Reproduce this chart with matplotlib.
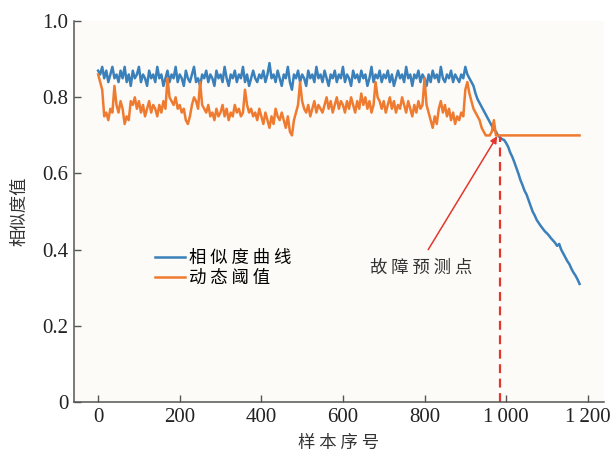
import numpy as np
import matplotlib
matplotlib.use("Agg")
import matplotlib.pyplot as plt

plt.rcParams['font.family'] = ['Liberation Serif', 'Noto Sans CJK SC', 'DejaVu Sans']

# similarity curve, one value every 5 samples (0 .. 1180)
sim_idx = np.arange(0, 1185, 5)
similarity = [
    0.87, 0.86, 0.88, 0.85, 0.87, 0.84, 0.86, 0.88, 0.85, 0.86,
    0.84, 0.87, 0.85, 0.88, 0.84, 0.86, 0.83, 0.87, 0.85, 0.86,
    0.88, 0.84, 0.86, 0.85, 0.83, 0.87, 0.85, 0.86, 0.84, 0.88,
    0.85, 0.86, 0.83, 0.85, 0.87, 0.84, 0.86, 0.85, 0.88, 0.84,
    0.86, 0.85, 0.83, 0.87, 0.85, 0.84, 0.86, 0.88, 0.84, 0.85,
    0.83, 0.86, 0.85, 0.87, 0.84, 0.86, 0.85, 0.83, 0.87, 0.85,
    0.86, 0.84, 0.88, 0.85, 0.83, 0.86, 0.85, 0.87, 0.84, 0.86,
    0.85, 0.88, 0.84, 0.86, 0.83, 0.85, 0.87, 0.85, 0.84, 0.86,
    0.85, 0.87, 0.84, 0.86, 0.89, 0.85, 0.86, 0.84, 0.87, 0.85,
    0.83, 0.86, 0.85, 0.88, 0.84, 0.82, 0.86, 0.85, 0.87, 0.84,
    0.86, 0.85, 0.83, 0.87, 0.85, 0.86, 0.84, 0.88, 0.85, 0.86,
    0.84, 0.87, 0.85, 0.83, 0.86, 0.85, 0.87, 0.84, 0.86, 0.85,
    0.88, 0.84, 0.86, 0.85, 0.83, 0.87, 0.85, 0.86, 0.84, 0.87,
    0.85, 0.86, 0.83, 0.85, 0.88, 0.84, 0.86, 0.85, 0.87, 0.84,
    0.86, 0.85, 0.87, 0.84, 0.86, 0.83, 0.85, 0.87, 0.85, 0.86,
    0.84, 0.88, 0.85, 0.86, 0.83, 0.86, 0.85, 0.87, 0.84, 0.86,
    0.85, 0.83, 0.86, 0.84, 0.87, 0.85, 0.86, 0.84, 0.88, 0.85,
    0.84, 0.86, 0.85, 0.87, 0.84, 0.86, 0.85, 0.84, 0.86, 0.85,
    0.88, 0.86, 0.85, 0.84, 0.83, 0.81, 0.795, 0.785, 0.775, 0.765,
    0.755, 0.745, 0.735, 0.725, 0.715, 0.71, 0.70, 0.695, 0.69, 0.688,
    0.68, 0.67, 0.655, 0.644, 0.63, 0.615, 0.60, 0.583, 0.57, 0.555,
    0.545, 0.53, 0.515, 0.50, 0.49, 0.478, 0.47, 0.462, 0.455, 0.448,
    0.443, 0.437, 0.43, 0.424, 0.418, 0.41, 0.415, 0.40, 0.39, 0.38,
    0.37, 0.362, 0.35, 0.34, 0.332, 0.322, 0.31,
]

# dynamic threshold, every 5 samples up to 975, then flat to the end
thr_idx = list(range(0, 980, 5)) + [1180]
threshold = [
    0.86, 0.84, 0.82, 0.75, 0.76, 0.74, 0.77, 0.76, 0.83, 0.78,
    0.76, 0.79, 0.77, 0.73, 0.75, 0.74, 0.79, 0.78, 0.80, 0.77,
    0.79, 0.76, 0.78, 0.75, 0.77, 0.79, 0.76, 0.78, 0.77, 0.75,
    0.78, 0.76, 0.79, 0.77, 0.85, 0.80, 0.79, 0.78, 0.80, 0.77,
    0.78, 0.76, 0.77, 0.74, 0.73, 0.75, 0.78, 0.80, 0.79, 0.77,
    0.84, 0.78, 0.77, 0.76, 0.78, 0.75, 0.76, 0.74, 0.77, 0.75,
    0.76, 0.78, 0.75, 0.77, 0.74, 0.76, 0.75, 0.78, 0.76, 0.77,
    0.75, 0.76, 0.82, 0.78, 0.76, 0.77, 0.75, 0.76, 0.74, 0.77,
    0.75, 0.73, 0.76, 0.74, 0.72, 0.75, 0.73, 0.77, 0.75, 0.74,
    0.76, 0.74, 0.72, 0.75, 0.71, 0.70, 0.74, 0.76, 0.78, 0.84,
    0.79, 0.77, 0.76, 0.78, 0.75, 0.77, 0.79, 0.76, 0.78, 0.77,
    0.76, 0.78, 0.80, 0.77, 0.79, 0.76, 0.78, 0.80, 0.77, 0.79,
    0.78, 0.76, 0.79, 0.77, 0.80, 0.78, 0.76, 0.79, 0.77, 0.81,
    0.78, 0.80, 0.77, 0.79, 0.76, 0.78, 0.84, 0.80, 0.79, 0.77,
    0.79, 0.76, 0.78, 0.80, 0.77, 0.79, 0.76, 0.78, 0.77, 0.80,
    0.78, 0.76, 0.79, 0.77, 0.75, 0.78, 0.76, 0.79, 0.77, 0.78,
    0.85, 0.78, 0.76, 0.74, 0.72, 0.75, 0.73, 0.77, 0.79, 0.76,
    0.78, 0.75, 0.77, 0.74, 0.76, 0.73, 0.75, 0.74, 0.76, 0.75,
    0.82, 0.84, 0.81, 0.79, 0.77, 0.76, 0.75, 0.74, 0.72, 0.71,
    0.70, 0.70, 0.70, 0.71, 0.74, 0.70,
    0.70,
]

fault_idx = 985
fault_val = 0.70

xticks = [0, 200, 400, 600, 800, 1000, 1200]
xticklabels = ['0', '200', '400', '600', '800', '1\u2009000', '1\u2009200']
yticks = [0, 0.2, 0.4, 0.6, 0.8, 1.0]
yticklabels = ['0', '0.2', '0.4', '0.6', '0.8', '1.0']

blue = '#3a80ba'
orange = '#ee7b30'
red = '#e2372c'
cjk = ['Noto Sans CJK SC', 'DejaVu Sans']

fig = plt.figure(figsize=(6.12, 4.55), dpi=100)
ax = fig.add_axes([0.121, 0.1165, 0.866, 0.837])
ax.set_facecolor('#fdfbf7')

ax.plot(sim_idx, similarity, color=blue, lw=1.8, label='相 似 度 曲 线')
ax.plot(thr_idx, threshold, color=orange, lw=1.8, label='动 态 阈 值')

ax.plot([fault_idx, fault_idx], [0, fault_val - 0.005], color=red, lw=1.6,
        linestyle=(0, (4, 2.5)))
ax.annotate('', xy=(978, 0.698), xytext=(809, 0.40),
            arrowprops=dict(arrowstyle='-|>', color=red, lw=1.1,
                            mutation_scale=10, shrinkA=0, shrinkB=0))
ax.text(792, 0.352, '故 障 预 测 点', family=cjk, fontsize=12.5,
        ha='center', va='center', color='#333333')

ax.set_xlim(-59, 1240)
ax.set_ylim(0, 1.0)
ax.set_xticks(xticks)
ax.set_xticklabels(xticklabels)
ax.set_yticks(yticks)
ax.set_yticklabels(yticklabels)
ax.tick_params(axis='both', direction='in', length=5, width=1, colors='#555555',
               labelcolor='#222222', labelsize=15, pad=4)

for s in ['top', 'right']:
    ax.spines[s].set_visible(False)
for s in ['left', 'bottom']:
    ax.spines[s].set_color('#555555')
    ax.spines[s].set_linewidth(1.1)

ax.set_xlabel('样 本 序 号', family=cjk, fontsize=12.5, color='#333333', labelpad=5)
ax.set_ylabel('相似度值', family=cjk, fontsize=12.5, color='#333333', labelpad=10)

ax.legend(loc='upper left', bbox_to_anchor=(0.14, 0.42), frameon=False,
          prop={'family': cjk, 'size': 12.5}, handlelength=1.7,
          handletextpad=0.25, labelspacing=0.1, borderaxespad=0)

plt.savefig('out.png', dpi=100)
